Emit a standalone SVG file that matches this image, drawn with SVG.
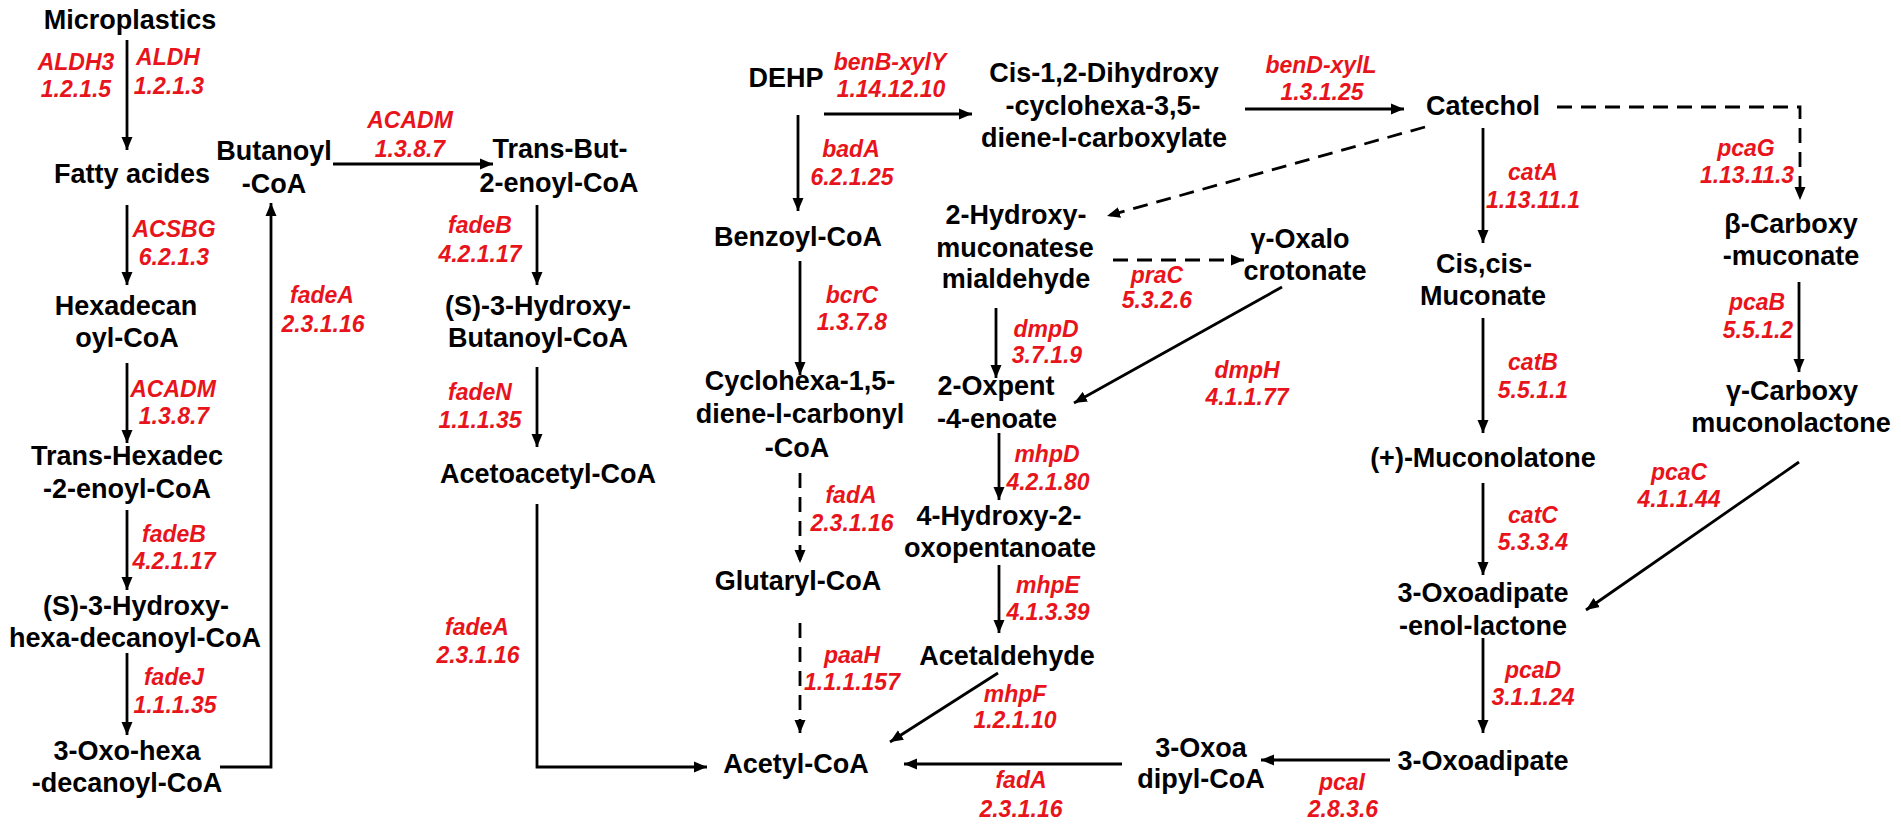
<svg xmlns="http://www.w3.org/2000/svg" width="1901" height="829" viewBox="0 0 1901 829">
<style>
.n{font-family:"Liberation Sans",Arial,sans-serif;font-weight:bold;font-size:27px;fill:#000;text-anchor:middle}
.e{font-family:"Liberation Sans",Arial,sans-serif;font-weight:bold;font-style:italic;font-size:23px;fill:#e8141b;text-anchor:middle}
.c{stroke:#000;stroke-width:2.8;fill:none;marker-end:url(#ah)}
.d{stroke-dasharray:15 9}
</style>
<defs>
<marker id="ah" markerWidth="14" markerHeight="12" refX="13" refY="6" orient="auto" markerUnits="userSpaceOnUse"><path d="M0,0.5 L13,6 L0,11.5 z" fill="#000"/></marker>
</defs>
<rect width="1901" height="829" fill="#fff"/>
<g id="connectors">
<path class="c" d="M127,40 V150"/>
<path class="c" d="M127,205 V285"/>
<path class="c" d="M127,363 V443"/>
<path class="c" d="M127,510 V590"/>
<path class="c" d="M127,653 V735"/>
<path class="c" d="M220,767 H271 V203"/>
<path class="c" d="M333,164 H493"/>
<path class="c" d="M537,205 V285"/>
<path class="c" d="M537,367 V447"/>
<path class="c" d="M537,504 V767 H707"/>
<path class="c" d="M824,114 H972"/>
<path class="c" d="M1245,109 H1404"/>
<path class="c" d="M798,115 V211"/>
<path class="c" d="M800,261 V375"/>
<path class="c d" d="M800,473 V563"/>
<path class="c d" d="M800,623 V733"/>
<path class="c" d="M1122,764 H904"/>
<path class="c" d="M998,673 L890,742"/>
<path class="c d" d="M1425,127 L1107,216"/>
<path class="c d" d="M1113,260 H1244"/>
<path class="c" d="M1282,287 L1074,403"/>
<path class="c" d="M996,308 V378"/>
<path class="c" d="M999,433 V500"/>
<path class="c" d="M999,565 V633"/>
<path class="c" d="M1483,128 V243"/>
<path class="c" d="M1483,318 V433"/>
<path class="c" d="M1483,483 V575"/>
<path class="c" d="M1483,638 V733"/>
<path class="c" d="M1390,760 H1261"/>
<path class="c d" d="M1557,107 H1800 V200"/>
<path class="c" d="M1799,282 V372"/>
<path class="c" d="M1799,462 L1586,610"/>
</g>
<g id="enzymes">
<text class="e" x="76" y="70">ALDH3</text><text class="e" x="76" y="97">1.2.1.5</text>
<text class="e" x="168" y="65">ALDH</text><text class="e" x="169" y="94">1.2.1.3</text>
<text class="e" x="174" y="237">ACSBG</text><text class="e" x="174" y="265">6.2.1.3</text>
<text class="e" x="173" y="397">ACADM</text><text class="e" x="174" y="424">1.3.8.7</text>
<text class="e" x="174" y="542">fadeB</text><text class="e" x="174" y="569">4.2.1.17</text>
<text class="e" x="174" y="685">fadeJ</text><text class="e" x="175" y="713">1.1.1.35</text>
<text class="e" x="322" y="303">fadeA</text><text class="e" x="323" y="332">2.3.1.16</text>
<text class="e" x="410" y="128">ACADM</text><text class="e" x="410" y="157">1.3.8.7</text>
<text class="e" x="480" y="233">fadeB</text><text class="e" x="480" y="262">4.2.1.17</text>
<text class="e" x="480" y="400">fadeN</text><text class="e" x="480" y="428">1.1.1.35</text>
<text class="e" x="477" y="635">fadeA</text><text class="e" x="478" y="663">2.3.1.16</text>
<text class="e" x="890" y="70">benB-xylY</text><text class="e" x="891" y="97">1.14.12.10</text>
<text class="e" x="851" y="157">badA</text><text class="e" x="852" y="185">6.2.1.25</text>
<text class="e" x="852" y="303">bcrC</text><text class="e" x="852" y="330">1.3.7.8</text>
<text class="e" x="851" y="503">fadA</text><text class="e" x="852" y="531">2.3.1.16</text>
<text class="e" x="852" y="663">paaH</text><text class="e" x="852" y="690">1.1.1.157</text>
<text class="e" x="1015" y="702">mhpF</text><text class="e" x="1015" y="728">1.2.1.10</text>
<text class="e" x="1021" y="788">fadA</text><text class="e" x="1021" y="817">2.3.1.16</text>
<text class="e" x="1321" y="73">benD-xylL</text><text class="e" x="1322" y="100">1.3.1.25</text>
<text class="e" x="1157" y="283">praC</text><text class="e" x="1157" y="308">5.3.2.6</text>
<text class="e" x="1247" y="378">dmpH</text><text class="e" x="1247" y="405">4.1.1.77</text>
<text class="e" x="1046" y="337">dmpD</text><text class="e" x="1047" y="363">3.7.1.9</text>
<text class="e" x="1047" y="462">mhpD</text><text class="e" x="1048" y="490">4.2.1.80</text>
<text class="e" x="1048" y="593">mhpE</text><text class="e" x="1048" y="620">4.1.3.39</text>
<text class="e" x="1533" y="180">catA</text><text class="e" x="1533" y="208">1.13.11.1</text>
<text class="e" x="1533" y="370">catB</text><text class="e" x="1533" y="398">5.5.1.1</text>
<text class="e" x="1533" y="523">catC</text><text class="e" x="1533" y="550">5.3.3.4</text>
<text class="e" x="1533" y="678">pcaD</text><text class="e" x="1533" y="705">3.1.1.24</text>
<text class="e" x="1342" y="790">pcaI</text><text class="e" x="1343" y="817">2.8.3.6</text>
<text class="e" x="1746" y="156">pcaG</text><text class="e" x="1747" y="183">1.13.11.3</text>
<text class="e" x="1757" y="310">pcaB</text><text class="e" x="1758" y="338">5.5.1.2</text>
<text class="e" x="1679" y="480">pcaC</text><text class="e" x="1679" y="507">4.1.1.44</text>
</g>
<g id="microplastics"><text class="n" x="130" y="29">Microplastics</text></g>
<g id="fatty-acides"><text class="n" x="132" y="183">Fatty acides</text></g>
<g id="hexadecanoyl-coa"><text class="n" x="126" y="315">Hexadecan</text><text class="n" x="127" y="347">oyl-CoA</text></g>
<g id="trans-hexadec"><text class="n" x="127" y="465">Trans-Hexadec</text><text class="n" x="127" y="498">-2-enoyl-CoA</text></g>
<g id="s-hydroxy-hexadecanoyl"><text class="n" x="136" y="615">(S)-3-Hydroxy-</text><text class="n" x="135" y="647">hexa-decanoyl-CoA</text></g>
<g id="oxo-hexadecanoyl"><text class="n" x="127" y="760">3-Oxo-hexa</text><text class="n" x="127" y="792">-decanoyl-CoA</text></g>
<g id="butanoyl-coa"><text class="n" x="274" y="160">Butanoyl</text><text class="n" x="274" y="193">-CoA</text></g>
<g id="trans-but"><text class="n" x="560" y="158">Trans-But-</text><text class="n" x="559" y="192">2-enoyl-CoA</text></g>
<g id="s-hydroxy-butanoyl"><text class="n" x="538" y="315">(S)-3-Hydroxy-</text><text class="n" x="538" y="347">Butanoyl-CoA</text></g>
<g id="acetoacetyl-coa"><text class="n" x="548" y="483">Acetoacetyl-CoA</text></g>
<g id="dehp"><text class="n" x="786" y="87">DEHP</text></g>
<g id="cis-dihydroxy"><text class="n" x="1104" y="82">Cis-1,2-Dihydroxy</text><text class="n" x="1103" y="115">-cyclohexa-3,5-</text><text class="n" x="1104" y="147">diene-l-carboxylate</text></g>
<g id="catechol"><text class="n" x="1483" y="115">Catechol</text></g>
<g id="benzoyl-coa"><text class="n" x="798" y="246">Benzoyl-CoA</text></g>
<g id="cyclohexa"><text class="n" x="800" y="390">Cyclohexa-1,5-</text><text class="n" x="800" y="423">diene-l-carbonyl</text><text class="n" x="797" y="457">-CoA</text></g>
<g id="glutaryl-coa"><text class="n" x="798" y="590">Glutaryl-CoA</text></g>
<g id="acetyl-coa"><text class="n" x="796" y="773">Acetyl-CoA</text></g>
<g id="hydroxy-muconate"><text class="n" x="1016" y="224">2-Hydroxy-</text><text class="n" x="1015" y="257">muconatese</text><text class="n" x="1016" y="288">mialdehyde</text></g>
<g id="oxalocrotonate"><text class="n" x="1300" y="248">γ-Oxalo</text><text class="n" x="1305" y="280">crotonate</text></g>
<g id="oxpentenoate"><text class="n" x="996" y="395">2-Oxpent</text><text class="n" x="997" y="428">-4-enoate</text></g>
<g id="hydroxy-oxopentanoate"><text class="n" x="999" y="525">4-Hydroxy-2-</text><text class="n" x="1000" y="557">oxopentanoate</text></g>
<g id="acetaldehyde"><text class="n" x="1007" y="665">Acetaldehyde</text></g>
<g id="cis-cis-muconate"><text class="n" x="1484" y="273">Cis,cis-</text><text class="n" x="1483" y="305">Muconate</text></g>
<g id="muconolatone"><text class="n" x="1483" y="467">(+)-Muconolatone</text></g>
<g id="oxoadipate-enol-lactone"><text class="n" x="1483" y="602">3-Oxoadipate</text><text class="n" x="1483" y="635">-enol-lactone</text></g>
<g id="oxoadipate"><text class="n" x="1483" y="770">3-Oxoadipate</text></g>
<g id="oxoadipyl-coa"><text class="n" x="1201" y="757">3-Oxoa</text><text class="n" x="1201" y="788">dipyl-CoA</text></g>
<g id="carboxy-muconate"><text class="n" x="1791" y="233">β-Carboxy</text><text class="n" x="1791" y="265">-muconate</text></g>
<g id="carboxy-muconolactone"><text class="n" x="1792" y="400">γ-Carboxy</text><text class="n" x="1791" y="432">muconolactone</text></g>
</svg>
